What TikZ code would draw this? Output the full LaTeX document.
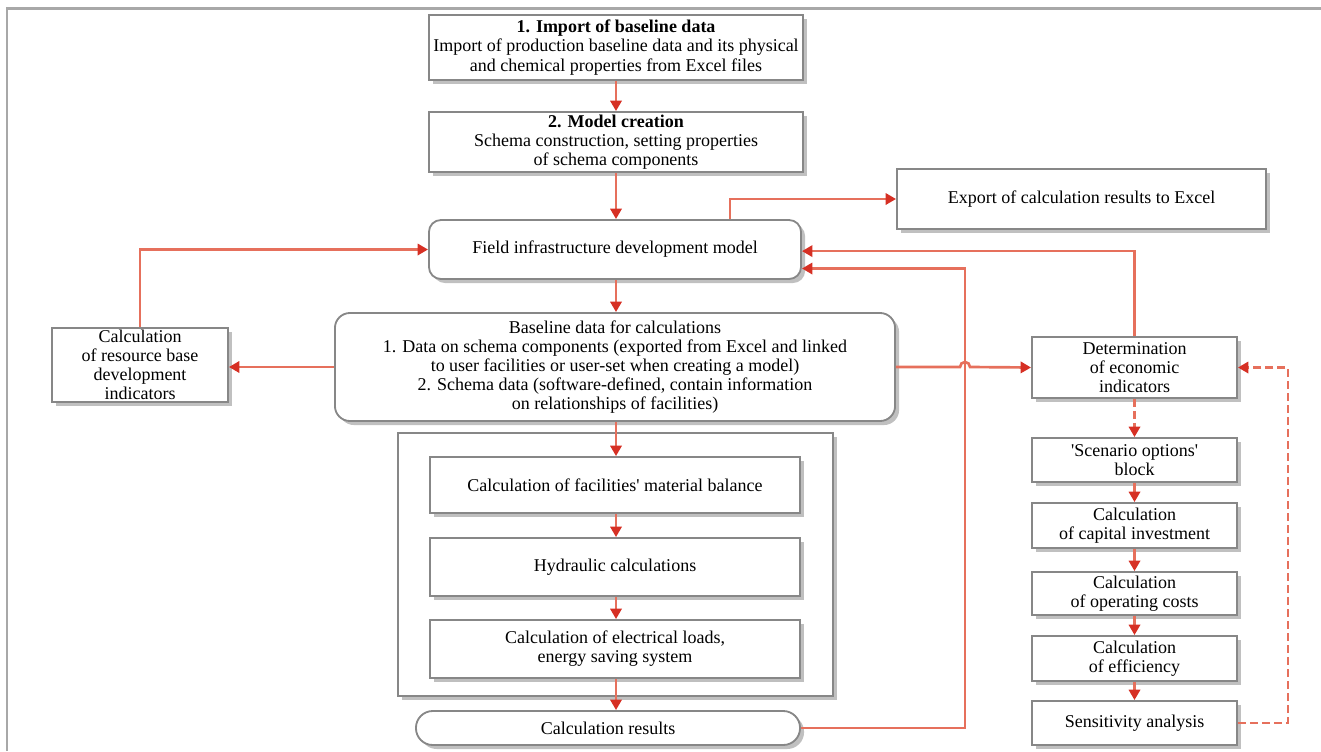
\documentclass[tikz,border=0pt]{standalone}
\usepackage{fontspec}
\setmainfont{Liberation Serif}[Ligatures=TeXOff]
\usetikzlibrary{arrows.meta, shadows}

\definecolor{linered}{RGB}{230,112,92}
\definecolor{tipred}{RGB}{214,48,36}
\definecolor{boxgray}{RGB}{135,135,135}
\definecolor{framegray}{RGB}{168,168,168}

\tikzset{
  box/.style={draw=boxgray, line width=1.3pt, fill=white, align=center, inner sep=1pt,
    drop shadow={shadow xshift=0.1cm, shadow yshift=-0.1cm, fill=black!55, opacity=0.45}},
  rbox/.style={box, rounded corners=0.3cm},
  conn/.style={draw=linered, line width=1.9pt, -{Triangle[length=0.26cm, width=0.28cm, color=tipred]}},
  dconn/.style={conn, dash pattern=on 0.2cm off 0.1cm},
}

\begin{document}
\begin{tikzpicture}[x=0.025cm, y=-0.025cm, font=\fontsize{12.8pt}{13.6pt}\selectfont]
    \useasboundingbox (0,0) rectangle (1321,751);
    \draw[framegray, line width=2pt] (7,751) -- (7,8.5) -- (1321,8.5);

    % main column
    \node[box, minimum width=9.35cm, minimum height=1.625cm] (imp) at (616,47.5) {\textbf{1. Import of baseline data}\\Import of production baseline data and its physical\\and chemical properties from Excel files};
    \node[box, minimum width=9.35cm, minimum height=1.5cm] (mod) at (616,142) {\textbf{2. Model creation}\\Schema construction, setting properties\\of schema components};
    \node[rbox, minimum width=9.3cm, minimum height=1.475cm] (field) at (615,249.5) {Field infrastructure development model};
    \node[box, minimum width=9.225cm, minimum height=1.5cm] (exp) at (1081.5,199) {Export of calculation results to Excel};
    \node[box, minimum width=4.4cm, minimum height=1.85cm] (resb) at (140,365) {Calculation\\of resource base\\development\\indicators};
    \node[box, rounded corners=0.375cm, minimum width=14cm, minimum height=2.7cm] (base) at (615,367) {Baseline data for calculations\\1. Data on schema components (exported from Excel and linked\\to user facilities or user-set when creating a model)\\2. Schema data (software-defined, contain information\\on relationships of facilities)};

    % calculation block
    \node[box, minimum width=10.875cm, minimum height=6.575cm] (blk) at (615.5,564.5) {};
    \node[box, minimum width=9.25cm, minimum height=1.4cm] (mat) at (615,485) {Calculation of facilities' material balance};
    \node[box, minimum width=9.25cm, minimum height=1.45cm] (hyd) at (615,567) {Hydraulic calculations};
    \node[box, minimum width=9.25cm, minimum height=1.45cm] (ele) at (615,649) {Calculation of electrical loads,\\energy saving system};
    \node[box, rounded corners=0.42cm, minimum width=9.6cm, minimum height=0.85cm] (calcres) at (608,728) {Calculation results};

    % economic column
    \node[box, minimum width=5.125cm, minimum height=1.525cm] (det) at (1134.5,367.5) {Determination\\of economic\\indicators};
    \node[box, minimum width=5.125cm, minimum height=1.1cm] (scen) at (1134.5,460) {'Scenario options'\\block};
    \node[box, minimum width=5.125cm, minimum height=1.125cm] (capinv) at (1134.5,525.5) {Calculation\\of capital investment};
    \node[box, minimum width=5.125cm, minimum height=1.075cm] (opcost) at (1134.5,593.5) {Calculation\\of operating costs};
    \node[box, minimum width=5.125cm, minimum height=1.125cm] (effic) at (1134.5,658.5) {Calculation\\of efficiency};
    \node[box, minimum width=5.125cm, minimum height=1.1cm] (sens) at (1134.5,723) {Sensitivity analysis};

    \coordinate (jmp) at (965,367);
    \coordinate (fieldlow) at ([yshift=-0.475cm]field.east);

    % connectors
    \draw[conn] (imp) -- (mod);
    \draw[conn] (mod.south -| imp) -- (field.north -| imp);
    \draw[conn] ([xshift=2.875cm]field.north) |- (exp.west);
    \draw[conn] (field.south -| imp) -- (base.north -| imp);
    \draw[conn] (resb.north) |- (field.west);
    \draw[conn] (base.west) -- (base.west -| resb.east);
    \draw[conn] (base.east) -- ([xshift=-0.125cm]jmp) arc[start angle=180, end angle=0, radius=0.125cm] -- (det.west);
    \draw[conn] (det.north) |- ([yshift=-0.04cm]field.east);
    \draw[conn] (calcres.east) -| (jmp) |- (fieldlow);
    \draw[conn] (base.south -| imp) -- (mat.north -| imp);
    \draw[conn] (mat.south -| imp) -- (hyd.north -| imp);
    \draw[conn] (hyd.south -| imp) -- (ele.north -| imp);
    \draw[conn] (ele.south -| imp) -- (calcres.north -| imp);

    \draw[dconn] (det) -- (scen);
    \draw[conn] (scen) -- (capinv);
    \draw[conn] (capinv) -- (opcost);
    \draw[conn] (opcost) -- (effic);
    \draw[conn] (effic) -- (sens);
    \draw[dconn] (sens.east) -- ++(1.25cm,0) |- (det.east);
\end{tikzpicture}
\end{document}
